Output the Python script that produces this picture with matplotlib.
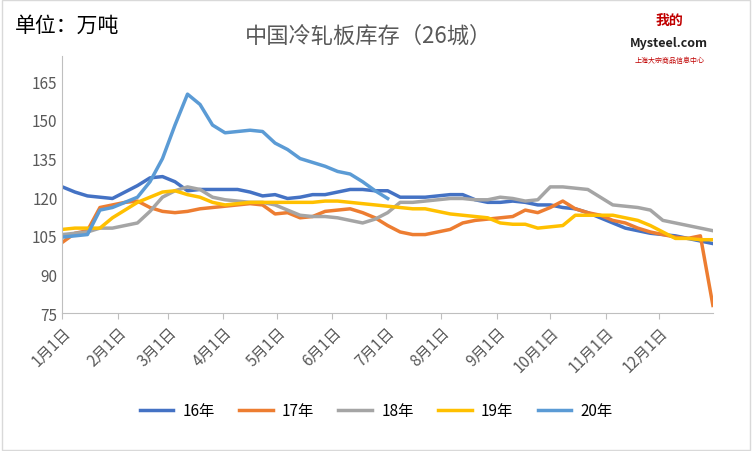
import matplotlib
matplotlib.use("Agg")
import matplotlib.pyplot as plt
import numpy as np

plt.rcParams["font.family"] = ["Noto Sans CJK SC", "DejaVu Sans"]

months = ["1月1日","2月1日","3月1日","4月1日","5月1日","6月1日","7月1日","8月1日","9月1日","10月1日","11月1日","12月1日"]
month_days = [0,31,59,90,120,151,181,212,243,273,304,334]
s16 = [124,122,120.5,120,119.5,122,124.5,127.5,128,126,122.5,123,123,123,123,122,120.5,121,119.5,120,121,121,122,123,123,122.5,122.5,120,120,120,120.5,121,121,119,118,118,118.5,118,117,117,116,115.5,114,112,110,108,107,106,105.5,105,104,103,102]
s17 = [102.5,106,107,116,117,118,118.5,116,114.5,114,114.5,115.5,116,116.5,117,117.5,117,113.5,114,112,112.5,114.5,115,115.5,114,112,109,106.5,105.5,105.5,106.5,107.5,110,111,111.5,112,112.5,115,114,116,118.5,115.5,114,113,111,110,108,106.5,105.5,104.5,104,105,78]
s18 = [105.5,106,106.5,108,108,109,110,114.5,120,122.5,124,123,120,119,118.5,118,118,117,115,113,112.5,112.5,112,111,110,111.5,114,118,118,118.5,119,119.5,119.5,119,119,120,119.5,118.5,119,124,124,123.5,123,120,117,116.5,116,115,111,110,109,108,107]
s19 = [107.5,108,108,108,112,115,118,120,122,122.5,121,120,118,117,117.5,118,118,118,118,118,118,118.5,118.5,118,117.5,117,116.5,116,115.5,115.5,114.5,113.5,113,112.5,112,110,109.5,109.5,108,108.5,109,113,113,113,113,112,111,109,106.5,104,104,103.5,103.5]
s20 = [104.5,105,105.5,115,116,118,120,126,135,148,160,156,148,145,145.5,146,145.5,141,138.5,135,133.5,132,130,129,126,122.5,119.5]
series = [("16年",s16,"#4472C4"),("17年",s17,"#ED7D31"),("18年",s18,"#A5A5A5"),("19年",s19,"#FFC000"),("20年",s20,"#5B9BD5")]

fig = plt.figure(figsize=(7.52,4.52), dpi=100)
ax = fig.add_axes([0.083, 0.305, 0.865, 0.57])
for name, v, c in series:
    ax.plot(np.arange(len(v))*7, v, color=c, lw=2.5, label=name)
ax.set_xlim(0, 364)
ax.set_ylim(75, 175)
ax.set_yticks(range(75, 166, 15))
ax.set_xticks(month_days)
ax.set_xticklabels(months, rotation=45, ha="right", rotation_mode="anchor", fontsize=11, color="#595959")
ax.tick_params(axis="y", labelsize=11, colors="#595959", length=0)
ax.tick_params(axis="x", length=4, color="#BFBFBF")
for s in ["top","right"]:
    ax.spines[s].set_visible(False)
ax.spines["left"].set_color("#BFBFBF")
ax.spines["bottom"].set_color("#BFBFBF")
fig.text(0.02, 0.93, "单位：万吨", fontsize=15, color="black")
fig.text(0.49, 0.905, "中国冷轧板库存（26城）", fontsize=16, color="#595959", ha="center")
fig.text(0.89, 0.945, "我的", fontsize=10, color="#C00000", ha="center", weight="bold")
fig.text(0.89, 0.895, "Mysteel.com", fontsize=9, color="#222222", ha="center", weight="bold")
fig.text(0.89, 0.86, "上海大宗商品信息中心", fontsize=5, color="#C00000", ha="center")
fig.legend(loc="lower center", bbox_to_anchor=(0.5, 0.04), ncol=5, frameon=False, fontsize=11, handlelength=2.2, columnspacing=1.6, handletextpad=0.6)
fig.add_artist(plt.Rectangle((0.002,0.002),0.996,0.996, transform=fig.transFigure, fill=False, ec="#D9D9D9"))
fig.savefig("out.png")
